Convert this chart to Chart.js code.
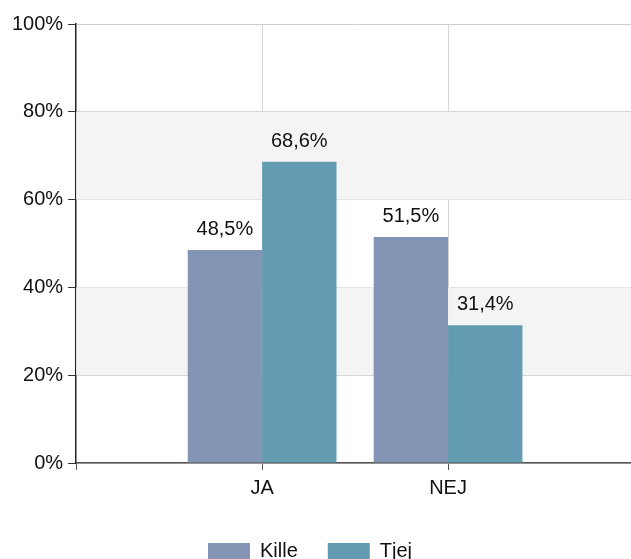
<!DOCTYPE html>
<html lang="sv">
  <head>
    <meta charset="UTF-8" />
    <title>Kille / Tjej</title>
    <script src="https://cdn.jsdelivr.net/npm/chart.js"></script>
    <style>
      html, body { margin: 0; padding: 0; overflow: hidden; background: #fff; }
      #wrap { width: 640px; height: 571px; position: relative; }
    </style>
  </head>
  <body>
    <div id="wrap"><canvas id="myChart"></canvas></div>
  </body>
  <script>
    // tomma etiketter i kanterna ger samma placering som originalet
    const categories = ["", "JA", "NEJ", ""];
    const killeValues = [null, 48.5, 51.5, null];
    const tjejValues = [null, 68.6, 31.4, null];
    const yTicks = [0, 20, 40, 60, 80, 100];

    const fontFamily = "'Liberation Sans', Arial, sans-serif";

    // grå band mellan vartannat rutnätsstreck
    const bandPlugin = {
      id: "bands",
      beforeDatasetsDraw(chart) {
        const { ctx, chartArea } = chart;
        const y = chart.scales.y;
        ctx.save();
        ctx.fillStyle = "#f4f4f4";
        for (let i = 1; i < yTicks.length - 1; i += 2) {
          const top = y.getPixelForValue(yTicks[i + 1]);
          const bottom = y.getPixelForValue(yTicks[i]);
          ctx.fillRect(chartArea.left, top, chartArea.right - chartArea.left, bottom - top);
        }
        ctx.restore();
      },
    };

    const valueLabels = {
      id: "valueLabels",
      afterDatasetsDraw(chart) {
        const ctx = chart.ctx;
        ctx.save();
        ctx.font = "20px " + fontFamily;
        ctx.fillStyle = "#111";
        ctx.textAlign = "center";
        ctx.textBaseline = "alphabetic";
        chart.data.datasets.forEach((ds, i) => {
          chart.getDatasetMeta(i).data.forEach((bar, j) => {
            const v = ds.data[j];
            if (v == null) return;
            ctx.fillText(v.toFixed(1).replace(".", ",") + "%", bar.x, bar.y - 15);
          });
        });
        ctx.restore();
      },
    };

    // legenden sitter lite till vänster i originalet
    const legendShift = {
      id: "legendShift",
      afterLayout(chart) {
        chart.legend.left -= 12;
        chart.legend.right -= 12;
      },
    };

    new Chart(document.getElementById("myChart"), {
      type: "bar",
      data: {
        labels: categories,
        datasets: [
          { label: "Kille", data: killeValues, backgroundColor: "#8494b4" },
          { label: "Tjej", data: tjejValues, backgroundColor: "#639cb2" },
        ],
      },
      options: {
        responsive: true,
        maintainAspectRatio: false,
        animation: false,
        layout: { padding: { top: 24, left: 7, right: 3, bottom: 0 } },
        datasets: { bar: { barPercentage: 1, categoryPercentage: 0.8 } },
        scales: {
          x: {
            offset: false,
            afterFit(scale) {
              scale.height += 5;
            },
            grid: {
              offset: false,
              color: (c) => (c.index === 1 || c.index === 2 ? "#d6d6d6" : "rgba(0,0,0,0)"),
              tickColor: "#555",
              tickWidth: 1,
              tickLength: 7,
            },
            border: { color: "#555", width: 1.5 },
            ticks: { color: "#111", font: { size: 20, family: fontFamily }, padding: 6, maxRotation: 0 },
          },
          y: {
            min: 0,
            max: 100,
            afterBuildTicks(scale) {
              scale.ticks = yTicks.map((v) => ({ value: v }));
            },
            grid: { color: "#cfcfcf", tickColor: "#333", tickLength: 8 },
            border: { color: "#222", width: 1.5 },
            ticks: {
              color: "#111",
              font: { size: 20, family: fontFamily },
              padding: 5,
              callback: (v) => v + "%",
            },
          },
        },
        plugins: {
          legend: {
            position: "bottom",
            labels: {
              boxWidth: 42,
              boxHeight: 16,
              color: "#111",
              font: { size: 20, family: fontFamily },
              padding: 30,
            },
          },
          tooltip: { enabled: false },
        },
      },
      plugins: [bandPlugin, valueLabels, legendShift],
    });
  </script>
</html>
